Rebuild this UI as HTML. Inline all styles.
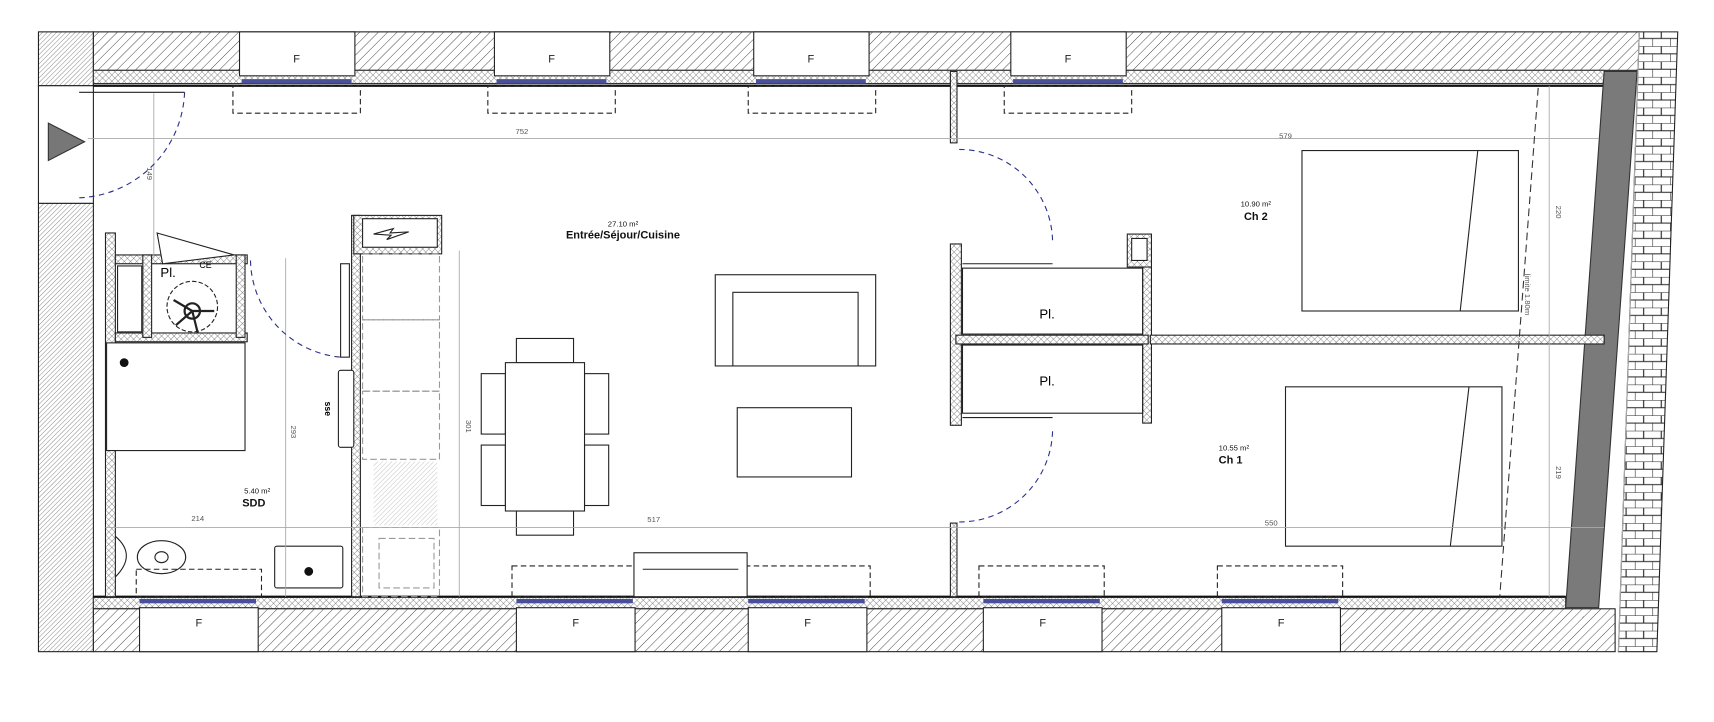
<!DOCTYPE html>
<html><head><meta charset="utf-8"><style>
html,body{margin:0;padding:0;background:#fff;}
svg{display:block;}
text{font-family:"Liberation Sans",sans-serif;}
</style></head><body>
<svg width="1714" height="722" viewBox="0 0 1560 657" preserveAspectRatio="none" xmlns="http://www.w3.org/2000/svg">
<defs>
<pattern id="h1" width="6" height="6" patternUnits="userSpaceOnUse" patternTransform="rotate(45)"><rect width="6" height="6" fill="#fff"/><line x1="0" y1="0" x2="0" y2="6" stroke="#333" stroke-width="0.8"/></pattern>
<pattern id="h2" width="3" height="3" patternUnits="userSpaceOnUse" patternTransform="rotate(45)"><rect width="3" height="3" fill="#fff"/><line x1="0" y1="0" x2="0" y2="3" stroke="#888" stroke-width="0.9"/></pattern>
<pattern id="x1" width="4" height="4" patternUnits="userSpaceOnUse" patternTransform="rotate(45)"><rect width="4" height="4" fill="#fff"/><path d="M0 0H4M0 0V4" stroke="#666" stroke-width="0.7"/></pattern>
<pattern id="br" width="16" height="14" patternUnits="userSpaceOnUse"><rect width="16" height="14" fill="#fff"/><path d="M0 0H16M0 7H16M8 0V7M0 7V14" stroke="#222" stroke-width="1"/></pattern>
</defs>
<rect width="1560" height="657" fill="#fff"/>

<!-- left outer gray hatched blocks -->
<rect x="35" y="29" width="50" height="49" fill="url(#h2)" stroke="#222"/>
<rect x="35" y="185" width="50" height="408" fill="url(#h2)" stroke="#222"/>
<rect x="35" y="78" width="50" height="107" fill="#fff" stroke="#222"/>
<polygon points="44,112 77,129 44,146" fill="#777" stroke="#333"/>

<!-- top wall -->
<rect x="85" y="29" width="1407" height="35" fill="url(#h1)" stroke="#222"/>
<rect x="85" y="64" width="1375" height="12" fill="url(#x1)" stroke="#333"/>
<line x1="85" y1="78" x2="1460" y2="78" stroke="#111" stroke-width="2"/>
<!-- bottom wall -->
<rect x="85" y="543" width="1340" height="11" fill="url(#x1)" stroke="#333"/>
<rect x="85" y="554" width="1385" height="39" fill="url(#h1)" stroke="#222"/>
<line x1="85" y1="543" x2="1425" y2="543" stroke="#111" stroke-width="2"/>

<!-- top windows -->
<g stroke="#222" fill="#fff">
<rect x="218" y="29" width="105" height="40"/><rect x="450" y="29" width="105" height="40"/>
<rect x="686" y="29" width="105" height="40"/><rect x="920" y="29" width="105" height="40"/>
</g>
<g fill="#4a4f9a"><rect x="220" y="72" width="100" height="4"/><rect x="452" y="72" width="100" height="4"/><rect x="688" y="72" width="100" height="4"/><rect x="922" y="72" width="100" height="4"/></g>
<g fill="none" stroke="#222" stroke-dasharray="5,3">
<rect x="212" y="78" width="116" height="25"/><rect x="444" y="78" width="116" height="25"/><rect x="681" y="78" width="116" height="25"/><rect x="914" y="78" width="116" height="25"/>
</g>
<g font-size="10" text-anchor="middle" fill="#222"><text x="270" y="57">F</text><text x="502" y="57">F</text><text x="738" y="57">F</text><text x="972" y="57">F</text></g>

<!-- bottom windows -->
<g stroke="#222" fill="#fff">
<rect x="127" y="553" width="108" height="40"/><rect x="470" y="553" width="108" height="40"/><rect x="681" y="553" width="108" height="40"/><rect x="895" y="553" width="108" height="40"/><rect x="1112" y="553" width="108" height="40"/>
</g>
<g fill="#4a4f9a"><rect x="127" y="545" width="106" height="4"/><rect x="470" y="545" width="106" height="4"/><rect x="681" y="545" width="106" height="4"/><rect x="895" y="545" width="106" height="4"/><rect x="1112" y="545" width="106" height="4"/></g>
<g fill="none" stroke="#222" stroke-dasharray="5,3">
<rect x="124" y="518" width="114" height="25"/><rect x="466" y="515" width="114" height="28"/><rect x="678" y="515" width="114" height="28"/><rect x="891" y="515" width="114" height="28"/><rect x="1108" y="515" width="114" height="28"/>
</g>
<g font-size="10" text-anchor="middle" fill="#222"><text x="181" y="570">F</text><text x="524" y="570">F</text><text x="735" y="570">F</text><text x="949" y="570">F</text><text x="1166" y="570">F</text></g>

<!-- right slanted gray and brick -->
<polygon points="1460,65 1490,65 1455,553 1425,553" fill="#7a7a7a" stroke="#333"/>
<polygon points="1492,29 1527,29 1508,593 1473,593" fill="url(#br)" stroke="#222"/>
<line x1="1492" y1="29" x2="1473" y2="593" stroke="#aaa"/>

<!-- partitions -->
<g fill="url(#x1)" stroke="#222">
<rect x="865" y="65" width="6" height="65"/>
<rect x="865" y="476" width="6" height="67"/>
<rect x="865" y="222" width="10" height="165"/>
<rect x="1040" y="215" width="8" height="170"/>
<rect x="1047" y="305" width="413" height="8"/>
<rect x="870" y="305" width="175" height="8"/>
<rect x="1026" y="213" width="22" height="30"/>
<rect x="96" y="212" width="9" height="331"/>
<rect x="320" y="196" width="8" height="347"/>
<rect x="322" y="196" width="80" height="35"/>
<rect x="105" y="232" width="120" height="8"/>
<rect x="105" y="303" width="120" height="8"/>
<rect x="130" y="232" width="8" height="75"/>
<rect x="215" y="232" width="8" height="75"/>
</g>
<rect x="1030" y="217" width="14" height="20" fill="#fff" stroke="#222"/>
<rect x="330" y="199" width="68" height="26" fill="#fff" stroke="#222"/>
<path d="M340 213 L358 208 L355 212 L372 211 L352 218 L356 214 Z" fill="none" stroke="#222"/>
<rect x="107" y="242" width="22" height="60" fill="#fff" stroke="#222"/>
<!-- closets -->
<g fill="none" stroke="#222">
<rect x="876" y="244" width="164" height="60"/><rect x="876" y="314" width="164" height="62"/>
<line x1="876" y1="240" x2="958" y2="240"/><line x1="876" y1="380" x2="958" y2="380"/>
</g>
<text x="953" y="290" font-size="12" text-anchor="middle">Pl.</text>
<text x="953" y="351" font-size="12" text-anchor="middle">Pl.</text>

<!-- SDD elements -->
<rect x="97" y="312" width="126" height="98" fill="#fff" stroke="#222"/>
<circle cx="113" cy="330" r="4" fill="#111"/>
<polygon points="143,212 213,232 148,240" fill="#fff" stroke="#222"/>
<circle cx="175" cy="279" r="23" fill="none" stroke="#222" stroke-dasharray="4,2"/>
<circle cx="175" cy="283" r="7" fill="none" stroke="#222" stroke-width="2"/>
<g stroke="#222" stroke-width="2"><line x1="175" y1="283" x2="160" y2="296"/><line x1="175" y1="283" x2="195" y2="283"/><line x1="175" y1="283" x2="180" y2="303"/><line x1="175" y1="283" x2="158" y2="273"/></g>
<text x="153" y="252" font-size="12" text-anchor="middle">Pl.</text>
<text x="187" y="244" font-size="8" text-anchor="middle">CE</text>
<ellipse cx="147" cy="507" rx="22" ry="15" fill="none" stroke="#222"/>
<ellipse cx="147" cy="507" rx="6" ry="5" fill="none" stroke="#222"/>
<path d="M105 488 Q125 505 105 525" fill="none" stroke="#222"/>
<rect x="250" y="497" width="62" height="38" rx="2" fill="#fff" stroke="#222"/>
<circle cx="281" cy="520" r="4" fill="#111"/>
<rect x="308" y="337" width="14" height="70" rx="2" fill="#fff" stroke="#222"/>
<rect x="310" y="240" width="8" height="85" fill="#fff" stroke="#222"/>
<text x="296" y="372" font-size="8" font-weight="bold" transform="rotate(90 296 372)" text-anchor="middle">sse</text>

<!-- kitchen -->
<g fill="none" stroke="#999" stroke-dasharray="6,3">
<rect x="330" y="231" width="70" height="60"/><rect x="330" y="291" width="70" height="65"/><rect x="330" y="356" width="70" height="62"/><rect x="330" y="480" width="70" height="63"/><rect x="345" y="490" width="50" height="45"/>
</g>
<rect x="340" y="420" width="58" height="58" fill="url(#h2)" opacity="0.5"/>

<!-- dining table -->
<g fill="#fff" stroke="#222">
<rect x="470" y="308" width="52" height="22"/><rect x="470" y="465" width="52" height="22"/>
<rect x="438" y="340" width="22" height="55"/><rect x="438" y="405" width="22" height="55"/>
<rect x="532" y="340" width="22" height="55"/><rect x="532" y="405" width="22" height="55"/>
<rect x="460" y="330" width="72" height="135"/>
<rect x="651" y="250" width="146" height="83"/><rect x="667" y="266" width="114" height="67"/>
<rect x="671" y="371" width="104" height="63"/>
<rect x="577" y="503" width="103" height="40"/>
<rect x="1185" y="137" width="197" height="146"/><rect x="1170" y="352" width="197" height="145"/>
</g>
<line x1="1345" y1="137" x2="1329" y2="283" stroke="#222"/>
<line x1="1337" y1="352" x2="1320" y2="497" stroke="#222"/>
<line x1="585" y1="518" x2="672" y2="518" stroke="#222"/>

<!-- dimension lines -->
<g stroke="#aaa" fill="none" stroke-width="0.8">
<line x1="80" y1="126" x2="1455" y2="126"/>
<line x1="96" y1="480" x2="1460" y2="480"/>
<line x1="140" y1="85" x2="140" y2="235"/>
<line x1="260" y1="235" x2="260" y2="543"/>
<line x1="418" y1="228" x2="418" y2="543"/>
<line x1="1410" y1="78" x2="1410" y2="543"/>
</g>
<line x1="1400" y1="80" x2="1365" y2="543" stroke="#333" stroke-dasharray="7,4"/>
<g font-size="7" fill="#555" text-anchor="middle">
<text x="475" y="122">752</text><text x="1170" y="126">579</text>
<text x="180" y="474">214</text><text x="595" y="475">517</text><text x="1157" y="478">550</text>
<text x="134" y="158" transform="rotate(90 134 158)">149</text>
<text x="265" y="393" transform="rotate(90 265 393)">293</text>
<text x="424" y="388" transform="rotate(90 424 388)">301</text>
<text x="1416" y="193" transform="rotate(90 1416 193)">220</text>
<text x="1416" y="430" transform="rotate(90 1416 430)">219</text>
<text x="1388" y="268" transform="rotate(90 1388 268)">limite 1.80m</text>
</g>

<!-- door arcs -->
<g fill="none" stroke="#2a2f8a" stroke-dasharray="5,4">
<path d="M168 84 A100 100 0 0 1 72 180"/>
<path d="M228 237 A90 90 0 0 0 310 325"/>
<path d="M873 136 A85 85 0 0 1 958 220"/>
<path d="M873 475 A85 85 0 0 0 958 392"/>
</g>
<line x1="72" y1="84" x2="168" y2="84" stroke="#222"/>

<!-- labels -->
<g text-anchor="middle" fill="#111">
<text x="567" y="206" font-size="7">27.10 m²</text>
<text x="567" y="217" font-size="10" font-weight="bold">Entrée/Séjour/Cuisine</text>
<text x="1143" y="188" font-size="7">10.90 m²</text>
<text x="1143" y="200" font-size="10" font-weight="bold">Ch 2</text>
<text x="1123" y="410" font-size="7">10.55 m²</text>
<text x="1120" y="422" font-size="10" font-weight="bold">Ch 1</text>
<text x="234" y="449" font-size="7">5.40 m²</text>
<text x="231" y="461" font-size="10" font-weight="bold">SDD</text>
</g>
</svg>
</body></html>
